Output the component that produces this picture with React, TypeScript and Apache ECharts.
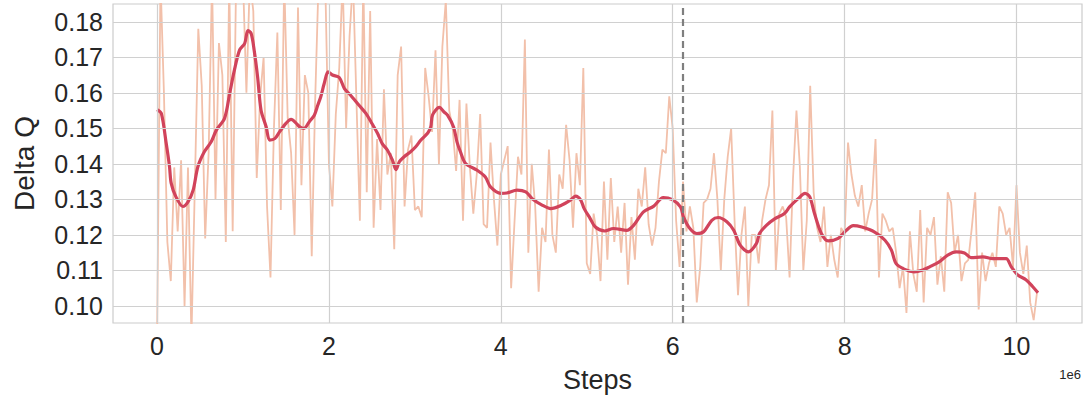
import React, { useEffect, useRef } from "react";
import * as echarts from "echarts";

// Raw Delta Q values, one every RAW_STEP (in units of 1e6 steps), starting at step 0
const RAW_STEP = 0.04;
const rawValues = [
  0.090, 0.192, 0.160, 0.118, 0.107, 0.139, 0.121, 0.141, 0.100, 0.139,
  0.091, 0.134, 0.178, 0.162, 0.119, 0.143, 0.192, 0.130, 0.174, 0.165,
  0.118, 0.192, 0.121, 0.192, 0.192, 0.192, 0.160, 0.192, 0.183, 0.136,
  0.159, 0.170, 0.128, 0.108, 0.150, 0.177, 0.127, 0.192, 0.153, 0.143,
  0.120, 0.184, 0.134, 0.165, 0.160, 0.114, 0.158, 0.192, 0.192, 0.188,
  0.140, 0.128, 0.154, 0.167, 0.192, 0.150, 0.176, 0.192, 0.158, 0.124,
  0.192, 0.132, 0.183, 0.122, 0.147, 0.127, 0.161, 0.137, 0.143, 0.116,
  0.165, 0.173, 0.128, 0.144, 0.148, 0.127, 0.128, 0.125, 0.167, 0.159,
  0.149, 0.172, 0.140, 0.173, 0.186, 0.155, 0.150, 0.138, 0.158, 0.124,
  0.157, 0.139, 0.126, 0.137, 0.154, 0.123, 0.122, 0.146, 0.130, 0.117,
  0.137, 0.141, 0.145, 0.105, 0.124, 0.142, 0.137, 0.175, 0.115, 0.140,
  0.128, 0.104, 0.122, 0.118, 0.144, 0.120, 0.115, 0.137, 0.133, 0.151,
  0.141, 0.122, 0.143, 0.134, 0.167, 0.112, 0.109, 0.126, 0.120, 0.107,
  0.135, 0.113, 0.136, 0.118, 0.128, 0.115, 0.129, 0.106, 0.125, 0.113,
  0.133, 0.128, 0.139, 0.123, 0.117, 0.122, 0.135, 0.144, 0.143, 0.159,
  0.150, 0.124, 0.111, 0.135, 0.121, 0.128, 0.122, 0.101, 0.111, 0.129,
  0.130, 0.133, 0.143, 0.130, 0.110, 0.130, 0.142, 0.150, 0.124, 0.103,
  0.120, 0.128, 0.100, 0.120, 0.120, 0.112, 0.124, 0.130, 0.134, 0.155,
  0.110, 0.126, 0.128, 0.125, 0.108, 0.136, 0.155, 0.139, 0.110, 0.124,
  0.162, 0.132, 0.122, 0.118, 0.128, 0.111, 0.120, 0.113, 0.108, 0.122,
  0.120, 0.146, 0.137, 0.131, 0.128, 0.134, 0.121, 0.126, 0.130, 0.147,
  0.108, 0.126, 0.124, 0.121, 0.122, 0.115, 0.105, 0.111, 0.098, 0.121,
  0.109, 0.104, 0.127, 0.101, 0.122, 0.120, 0.125, 0.106, 0.114, 0.104,
  0.132, 0.129, 0.115, 0.120, 0.107, 0.112, 0.113, 0.122, 0.132, 0.099,
  0.115, 0.107, 0.112, 0.115, 0.111, 0.128, 0.126, 0.120, 0.122, 0.111,
  0.134, 0.115, 0.109, 0.117, 0.101, 0.096, 0.104,
];

// Smoothed curve (steps in 1e6, value)
const smoothSteps = [
  0, 0.05, 0.107, 0.145, 0.165, 0.22, 0.3, 0.36, 0.42, 0.475,
  0.55, 0.63, 0.69, 0.785, 0.845, 0.9, 0.96, 1.02, 1.057, 1.095,
  1.13, 1.17, 1.21, 1.27, 1.31, 1.37, 1.425, 1.5, 1.56, 1.62,
  1.66, 1.71, 1.77, 1.83, 1.87, 1.905, 1.945, 1.99, 2.04, 2.12,
  2.18, 2.25, 2.35, 2.43, 2.49, 2.565, 2.62, 2.68, 2.74, 2.78,
  2.82, 2.875, 2.95, 3.01, 3.07, 3.15, 3.185, 3.205, 3.285, 3.34,
  3.38, 3.45, 3.49, 3.53, 3.59, 3.725, 3.82, 3.88, 4.0, 4.07,
  4.19, 4.29, 4.365, 4.48, 4.58, 4.71, 4.81, 4.87, 4.93, 4.97,
  5.04, 5.1, 5.21, 5.31, 5.465, 5.545, 5.66, 5.78, 5.89, 5.99,
  6.09, 6.125, 6.2, 6.28, 6.36, 6.455, 6.53, 6.63, 6.71, 6.785,
  6.88, 6.975, 7.01, 7.09, 7.19, 7.3, 7.36, 7.46, 7.54, 7.595,
  7.65, 7.73, 7.81, 7.925, 8.02, 8.1, 8.2, 8.35, 8.47, 8.545,
  8.6, 8.7, 8.81, 8.91, 8.99, 9.1, 9.2, 9.3, 9.395, 9.47,
  9.61, 9.725, 9.88, 9.94, 10.015, 10.11, 10.19, 10.25,
];
const smoothValues = [
  0.1553, 0.1542, 0.1457, 0.1392, 0.1345, 0.1307, 0.128, 0.1293, 0.1326, 0.1392,
  0.1434, 0.1462, 0.1495, 0.1528, 0.1598, 0.1664, 0.172, 0.1739, 0.1775, 0.1767,
  0.172, 0.1645, 0.1551, 0.1504, 0.1467, 0.1471, 0.149, 0.1514, 0.1525, 0.1514,
  0.1504, 0.15, 0.1518, 0.1537, 0.1565, 0.1589, 0.1626, 0.1659, 0.165, 0.1643,
  0.1612, 0.1594, 0.1565, 0.1542, 0.1518, 0.1486, 0.1457, 0.1439, 0.141, 0.1384,
  0.1406, 0.142, 0.1434, 0.1448, 0.1467, 0.1487, 0.1504, 0.1537, 0.1559, 0.1546,
  0.1537, 0.1504, 0.1462, 0.1434, 0.1401, 0.1382, 0.1363, 0.1335, 0.1317, 0.1318,
  0.1326, 0.1321, 0.1302, 0.1284, 0.1274, 0.1284, 0.1298, 0.1309, 0.1298, 0.1274,
  0.1246, 0.1222, 0.1211, 0.1218, 0.1213, 0.1227, 0.1265, 0.1281, 0.1305, 0.13,
  0.1279, 0.1251, 0.1218, 0.1204, 0.1209, 0.1241, 0.1249, 0.1237, 0.1213, 0.1171,
  0.1152, 0.1176, 0.1204, 0.1227, 0.1246, 0.126, 0.1279, 0.1302, 0.1317, 0.1307,
  0.126, 0.1204, 0.1183, 0.119, 0.1213, 0.1226, 0.1222, 0.1208, 0.1185, 0.1157,
  0.1119, 0.1103, 0.1096, 0.1101, 0.111, 0.1124, 0.1143, 0.1152, 0.1149, 0.1136,
  0.1138, 0.1133, 0.1133, 0.111, 0.1087, 0.1074, 0.1054, 0.1037,
];

const markerStep = 6.12;
// Tick positions and labels
const xTicks = [0, 2, 4, 6, 8, 10];
const xTickLabels = ["0", "2", "4", "6", "8", "10"];
const yTicks = [0.1, 0.11, 0.12, 0.13, 0.14, 0.15, 0.16, 0.17, 0.18];
const yTickLabels = ["0.10", "0.11", "0.12", "0.13", "0.14", "0.15", "0.16", "0.17", "0.18"];

const X_MIN = -0.5125;
const X_MAX = 10.7625;
const Y_MIN = 0.0952;
const Y_MAX = 0.185;

export default function App() {
  const ref = useRef<HTMLDivElement>(null);
  useEffect(() => {
    if (!ref.current) return;
    const chart = echarts.init(ref.current, undefined, { renderer: "svg" });
    const rawData = rawValues.map((v, i) => [+(i * RAW_STEP).toFixed(4), v]);
    const smoothData = smoothSteps.map((s, i) => [s, smoothValues[i]]);
    const font = "'Liberation Sans', Arial, sans-serif";
    const gridLine = { color: "#d0d0d0", width: 1.2, type: "solid" as const };
    const labelFor = (ticks: number[], labels: string[]) => (v: number) => {
      for (let k = 0; k < ticks.length; k++) {
        if (Math.abs(v - ticks[k]) < 1e-7) return labels[k];
      }
      return "";
    };
    chart.setOption({
      animation: false,
      backgroundColor: "#ffffff",
      grid: {
        left: 113,
        right: 5,
        top: 4,
        bottom: 75,
        show: true,
        borderColor: "#cccccc",
        borderWidth: 1.2,
        containLabel: false,
        outerBoundsMode: "none",
      },
      xAxis: {
        type: "value",
        min: X_MIN,
        max: X_MAX,
        name: "Steps",
        nameLocation: "middle",
        nameGap: 43,
        nameTextStyle: { fontFamily: font, fontSize: 27, color: "#262626" },
        axisLine: { show: false },
        axisTick: { show: false },
        axisLabel: {
          customValues: xTicks,
          margin: 10,
          fontFamily: font,
          fontSize: 25,
          color: "#262626",
          formatter: labelFor(xTicks, xTickLabels),
        },
        splitLine: { show: false },
      },
      yAxis: {
        type: "value",
        min: Y_MIN,
        max: Y_MAX,
        name: "Delta Q",
        nameLocation: "middle",
        nameGap: 75,
        nameTextStyle: { fontFamily: font, fontSize: 28, color: "#262626" },
        axisLine: { show: false },
        axisTick: { show: false },
        axisLabel: {
          customValues: yTicks,
          margin: 10,
          fontFamily: font,
          fontSize: 25,
          color: "#262626",
          formatter: labelFor(yTicks, yTickLabels),
        },
        splitLine: { show: false },
      },
      series: [
        {
          // grid lines drawn at the tick positions
          type: "line",
          data: [],
          silent: true,
          z: 1,
          markLine: {
            silent: true,
            symbol: "none",
            label: { show: false },
            lineStyle: gridLine,
            data: [
              ...xTicks.map((t) => ({ xAxis: t })),
              ...yTicks.map((t) => ({ yAxis: t })),
            ],
          },
        },
        {
          type: "line",
          data: rawData,
          showSymbol: false,
          symbol: "none",
          clip: true,
          lineStyle: { color: "#f2c0aa", width: 1.8 },
          z: 2,
          markLine: {
            silent: true,
            symbol: "none",
            label: { show: false },
            lineStyle: { color: "#7f7f7f", type: [7, 4], width: 2.2 },
            data: [{ xAxis: markerStep }],
          },
        },
        {
          type: "line",
          data: smoothData,
          showSymbol: false,
          symbol: "none",
          smooth: 0.3,
          clip: true,
          lineStyle: { color: "#d1435b", width: 3.2 },
          z: 3,
        },
      ],
      graphic: [
        {
          type: "text",
          right: 6,
          top: 368,
          style: { text: "1e6", fontFamily: font, fontSize: 13, fill: "#262626" },
        },
      ],
    });
    return () => chart.dispose();
  }, []);
  return (
    <div
      ref={ref}
      style={{ position: "absolute", left: 0, top: 0, width: 1087, height: 398 }}
    />
  );
}
